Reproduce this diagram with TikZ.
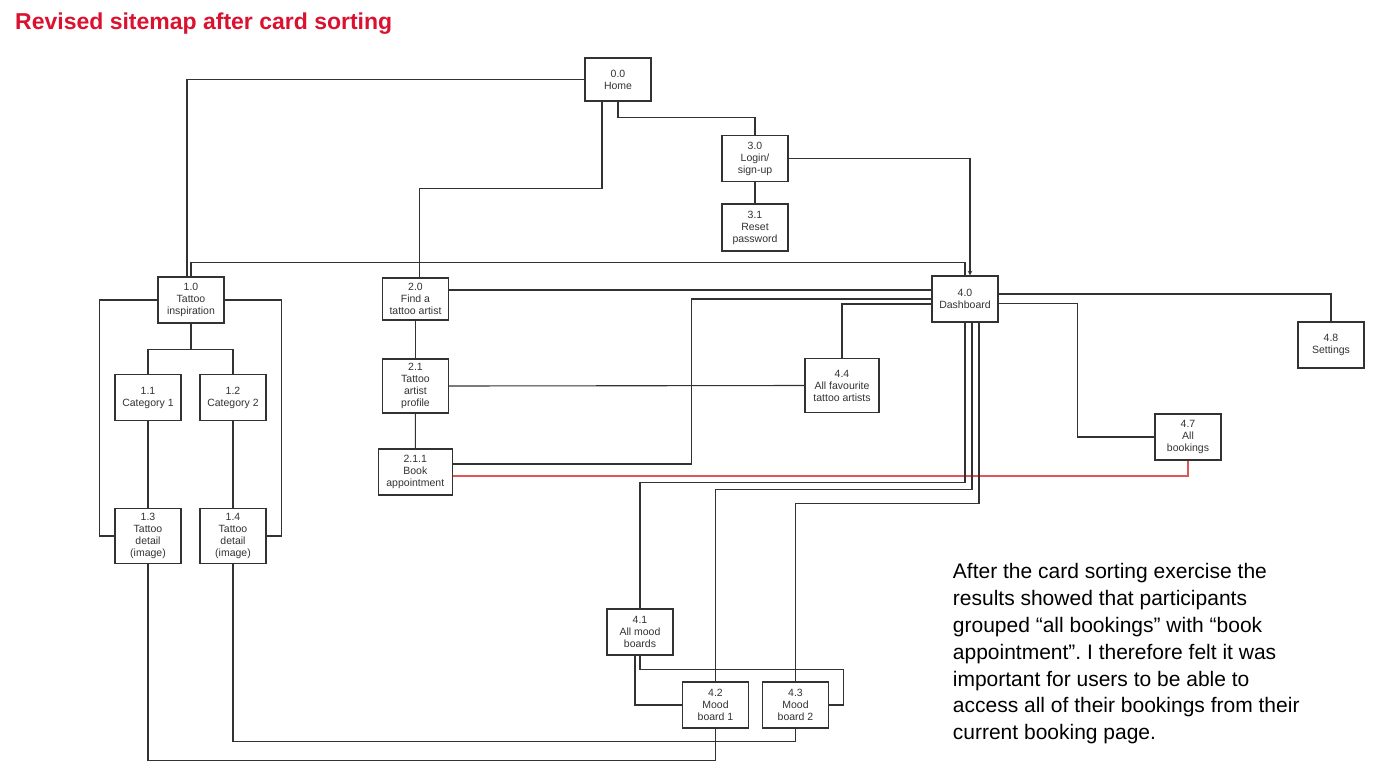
\documentclass[tikz,border=0pt]{standalone}
\usepackage{fontspec}
\setmainfont{Liberation Sans}
\usepackage{xcolor}
\usepackage{tikz}
\usetikzlibrary{arrows, positioning, calc}
\frenchspacing
\definecolor{titlered}{RGB}{218,18,48}
\definecolor{linegray}{RGB}{50,50,50}
\definecolor{linkred}{RGB}{222,86,86}
\tikzstyle{link} = [draw=linegray, line width=1.1pt]
\tikzstyle{redlink} = [draw=linkred, line width=1.1pt]
\tikzstyle{arrow} = [link, ->, >=stealth]
\tikzstyle{page} = [rectangle, draw=linegray, line width=1.1pt, fill=white, minimum width=66pt, minimum height=46pt, inner sep=0pt, align=center, text=black!80, font=\fontsize{10.5}{12}\selectfont]

\begin{document}
\begin{tikzpicture}[x=1pt, y=-1pt]
\useasboundingbox (0,0) rectangle (1400,782);

\node[anchor=base west, inner sep=0pt, text=titlered, font=\fontsize{23}{27}\selectfont\bfseries] (title) at (15,29) {Revised sitemap after card sorting};

\node[page, minimum height=43pt] (home) at (618,79.5) {0.0\\Home};
\node[page] (login) at (755,158.7) {3.0\\Login/\\sign-up};
\node[page, minimum height=47pt] (reset) at (755,227.5) {3.1\\Reset\\password};
\node[page] (insp) at (191,300) {1.0\\Tattoo\\inspiration};
\node[page, minimum height=42pt] (find) at (415.5,299) {2.0\\Find a\\tattoo artist};
\node[page] (dash) at (965,299) {4.0\\Dashboard};
\node[page] (settings) at (1331,345) {4.8\\Settings};
\node[page] (cat1) at (148,397.5) {1.1\\Category 1};
\node[page] (cat2) at (233,397.5) {1.2\\Category 2};
\node[page, minimum height=54pt] (profile) at (415.5,386) {2.1\\Tattoo\\artist\\profile};
\node[page, minimum width=74pt, minimum height=54pt] (fav) at (842,385.5) {4.4\\All favourite\\tattoo artists};
\node[page] (bookings) at (1188,437) {4.7\\All\\bookings};
\node[page, minimum width=74pt] (book) at (415.3,472) {2.1.1\\Book\\appointment};
\node[page, minimum height=55pt] (detail1) at (148,536) {1.3\\Tattoo\\detail\\(image)};
\node[page, minimum height=55pt] (detail2) at (233,536) {1.4\\Tattoo\\detail\\(image)};
\node[page] (moods) at (640,632) {4.1\\All mood\\boards};
\node[page] (board1) at (715.5,705) {4.2\\Mood\\board 1};
\node[page] (board2) at (795.5,705) {4.3\\Mood\\board 2};

\draw[link] (home.west) -| ([xshift=-4pt]insp.north);
\draw[link] ([xshift=-16pt]home.south) -- ++(0,87) -| ([xshift=4pt]find.north);
\draw[link] (home.south) -- ++(0,16.3) -| (login.north);
\draw[link] (login) -- (reset);
\draw[arrow] (login.east) -| ([xshift=5pt]dash.north);
\draw[link] (insp.north) -- ++(0,-14.4) -| (dash.north);

\draw[link] (insp.west) -- ++(-58,0) |- (detail1.west);
\draw[link] (insp.east) -- ++(57,0) |- (detail2.east);
\draw[link] (insp.south) -- ++(0,25.6) -| (cat1.north);
\draw[link] (insp.south) -- ++(0,25.6) -| (cat2.north);
\draw[link] (cat1) -- (detail1);
\draw[link] (cat2) -- (detail2);

\draw[link] (find) -- (profile);
\draw[link] (profile) -- (book);
\draw[link] ([yshift=9pt]find.east) -- ([yshift=9pt]find.east -| dash.west);
\draw[link] (profile.east) -- (fav.west);
\draw[link] ([yshift=8pt]book.east) -- ++(239,0) |- (dash.west);
\draw[link] (fav.north) |- ([yshift=-5pt]dash.west);
\draw[redlink] ([yshift=-4pt]book.east) -| (bookings.south);

\draw[link] ([yshift=5pt]dash.east) -| (settings.north);
\draw[link] ([yshift=-4.5pt]dash.east) -- ++(79,0) |- (bookings.west);
\draw[link] (dash.south) -- ++(0,160) -| (moods.north);
\draw[link] ([xshift=7pt]dash.south) -- ++(0,166.6) -| (board1.north);
\draw[link] ([xshift=14pt]dash.south) -- ++(0,180.6) -| (board2.north);

\draw[link] ([xshift=-5pt]moods.south) |- (board1.west);
\draw[link] (moods.south) -- ++(0,14) -| ([xshift=14pt]board2.east) -- (board2.east);
\draw[link] (board2.south) -- ++(0,12.7) -| (detail2.south);
\draw[link] (board1.south) -- ++(0,31.7) -| (detail1.south);

\node[anchor=north west, inner sep=0pt, align=left, font=\fontsize{21}{26.9}\selectfont] (note) at (952.7,563) {After the card sorting exercise the\\results showed that participants\\grouped “all bookings” with “book\\appointment”. I therefore felt it was\\important for users to be able to\\access all of their bookings from their\\current booking page.};
\end{tikzpicture}
\end{document}
